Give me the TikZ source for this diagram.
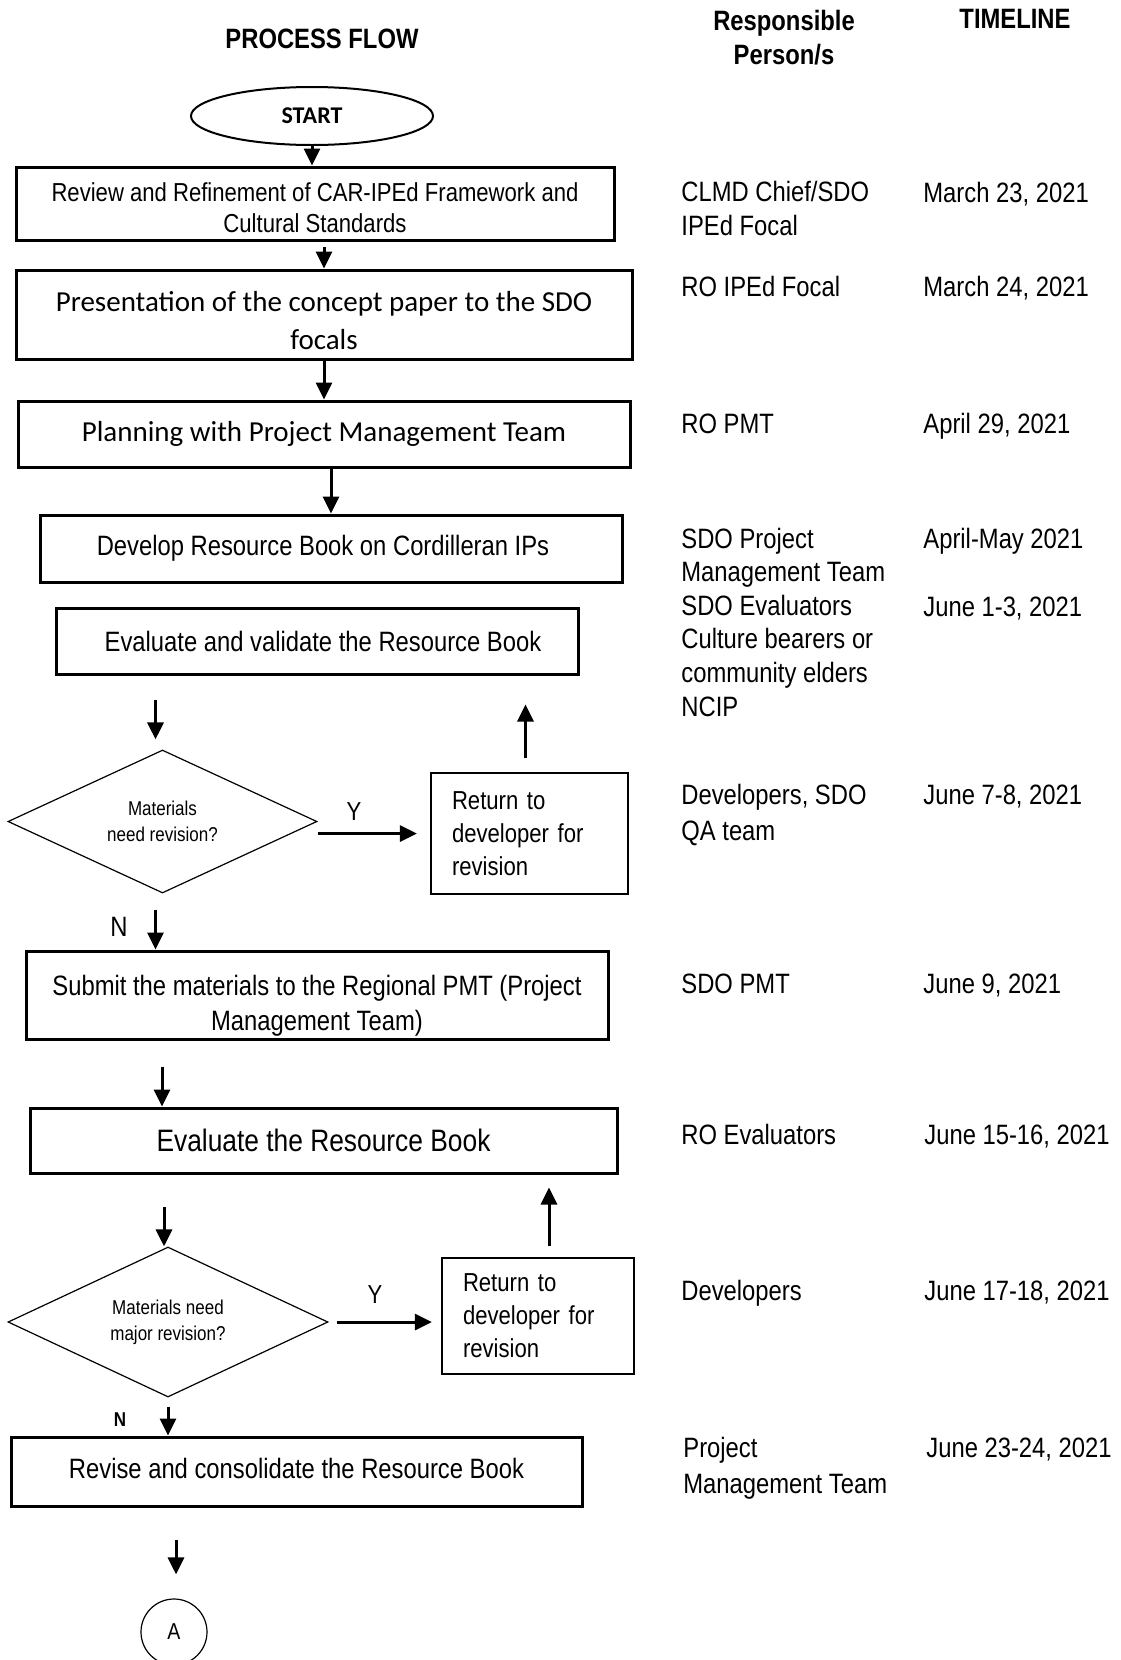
\documentclass[tikz,border=0pt]{standalone}
\usepackage{fontspec}
\setmainfont[FakeStretch=0.85]{Liberation Sans}
\newfontfamily\calfont{Carlito}
\usetikzlibrary{shapes.geometric,arrows.meta}
\newcommand\fsz[2]{\fontsize{#1}{#2}\selectfont}
\begin{document}
\begin{tikzpicture}[x=0.5pt,y=-0.5pt,
  box/.style={draw, line width=1.5pt, inner sep=0pt, align=center, font=\fsz{14pt}{17pt}},
  retbox/.style={draw, line width=1.1pt, inner sep=0pt, align=left, font=\fsz{13pt}{16.5pt}},
  decision/.style={draw, diamond, aspect=2.2, line width=0.6pt, inner sep=0pt, align=center, font=\fsz{10pt}{13pt}},
  arr/.style={line width=1.5pt, -{Triangle[length=8.5pt,width=8pt]}},
  hdr/.style={font=\bfseries\fsz{14pt}{17pt}, align=center, inner sep=0pt},
  col/.style={anchor=base west, inner sep=0pt, align=left, font=\fsz{14pt}{16.8pt}},
  lbl/.style={inner sep=0pt, font=\fsz{13pt}{15pt}}
]
\useasboundingbox (0,0) rectangle (1120,1660);

% headers
\node[hdr] (hpf) at (322,39) {PROCESS FLOW};
\node[hdr] (hrp) at (784,38) {Responsible\\Person/s};
\node[hdr] (htl) at (1015,19) {TIMELINE};

% flow nodes
\node[draw, ellipse, line width=1pt, inner sep=0pt, minimum width=121pt, minimum height=29pt,
      font=\calfont\bfseries\fsz{12pt}{14pt}] (start) at (312,116) {START};
\node[box, minimum width=299pt, minimum height=36.5pt, font=\fsz{13pt}{15.5pt}] (box1) at (315,203.5)
  {\rule{0pt}{13.7pt}Review and Refinement of CAR-IPEd Framework and\\Cultural Standards};
\node[box, minimum width=308pt, minimum height=44.5pt, font=\calfont\fsz{14.5pt}{19pt}] (box2) at (324,314.5)
  {\rule{0pt}{15.7pt}Presentation of the concept paper to the SDO\\focals};
\node[box, minimum width=306pt, minimum height=33pt, font=\calfont\fsz{14.5pt}{19pt}] (box3) at (324,434)
  {Planning with Project Management Team};
\node[box, minimum width=291pt, minimum height=33.5pt] (box4) at (331,548.5)
  {\hspace*{-8pt}Develop Resource Book on Cordilleran IPs};
\node[box, minimum width=261pt, minimum height=33pt] (box5) at (317,641)
  {\hspace*{6pt}Evaluate and validate the Resource Book};
\node[decision, minimum width=154.5pt, minimum height=71.5pt] (d1) at (162.5,821.5)
  {Materials\\need revision?};
\node[retbox, minimum width=98.5pt, minimum height=60.5pt, text width=77.5pt] (ret1) at (529.5,833.5)
  {Return to\\developer for\\revision};
\node[box, minimum width=291pt, minimum height=44pt, font=\fsz{14pt}{17.5pt}] (box6) at (317,995)
  {\rule{0pt}{20.5pt}Submit the materials to the Regional PMT (Project\\Management Team)};
\node[box, minimum width=293.5pt, minimum height=32.5pt, font=\fsz{15.5pt}{18pt}] (box7) at (323.5,1140.5)
  {Evaluate the Resource Book};
\node[decision, minimum width=160pt, minimum height=75pt] (d2) at (168,1322)
  {Materials need\\major revision?};
\node[retbox, minimum width=96pt, minimum height=58pt, text width=75pt] (ret2) at (538,1316)
  {Return to\\developer for\\revision};
\node[box, minimum width=285.5pt, minimum height=34.5pt] (box8) at (296.5,1471.5)
  {\raisebox{3.5pt}{Revise and consolidate the Resource Book}};
\node[draw, circle, line width=0.6pt, inner sep=0pt, minimum size=33pt, font=\fsz{11.5pt}{13pt}] (circA) at (174,1632) {A};

% connectors
\draw[arr] (start.south) -- (start.south |- box1.north);
\draw[arr, shorten <=2.5pt] (box2.north |- box1.south) -- (box2.north);
\draw[arr] (box2.south) -- (box3.north);
\draw[arr] (box3.south -| box4.north) -- (box4.north);
\draw[arr, shorten <=12pt, shorten >=5pt] ([xshift=-3.5pt]d1.north |- box5.south) -- ([xshift=-3.5pt]d1.north);
\draw[arr, shorten >=6.5pt] (d1.east |- ret1.west) -- (ret1.west);
\draw[arr, shorten <=7pt, shorten >=14.5pt] ([xshift=-2pt]ret1.north) -- ([xshift=-2pt]ret1.north |- box5.south);
\draw[arr, shorten <=8pt] ([xshift=-3.5pt]d1.south) -- ([xshift=-3.5pt]d1.south |- box6.north);
\draw[arr, shorten <=13pt] ([xshift=-3pt]d2.north |- box6.south) -- ([xshift=-3pt]d2.north |- box7.north);
\draw[arr, shorten <=16pt] ([xshift=-2pt]d2.north |- box7.south) -- ([xshift=-2pt]d2.north);
\draw[arr, shorten <=4pt, shorten >=4.5pt] (d2.east) -- (ret2.west |- d2.east);
\draw[arr, shorten <=5.5pt, shorten >=6.5pt] ([xshift=5.5pt]ret2.north) -- ([xshift=5.5pt]ret2.north |- box7.south);
\draw[arr, shorten <=4.5pt] (d2.south) -- (d2.south |- box8.north);
\draw[arr, shorten <=16pt, shorten >=12pt] ([xshift=1pt]circA.north |- box8.south) -- ([xshift=1pt]circA.north);

% branch labels
\node[lbl] (y1) at (354,812) {Y};
\node[lbl, font=\fsz{14pt}{16pt}] (n1) at (119,927) {N};
\node[lbl] (y2) at (375,1295) {Y};
\node[lbl, font=\bfseries\fsz{10pt}{12pt}] (n2) at (120,1420) {N};

% responsible persons (base anchor = last line's baseline)
\node[col] (r1) at (681,235) {CLMD Chief/SDO\\IPEd Focal};
\node[col] (r2) at (681,296) {RO IPEd Focal};
\node[col] (r3) at (681,433) {RO PMT};
\node[col] (r4) at (681,716) {SDO Project\\Management Team\\SDO Evaluators\\Culture bearers or\\community elders\\NCIP};
\node[col, font=\fsz{14pt}{18pt}] (r5) at (681,840) {Developers, SDO\\QA team};
\node[col] (r6) at (681,993) {SDO PMT};
\node[col] (r7) at (681,1144) {RO Evaluators};
\node[col] (r8) at (681,1300) {Developers};
\node[col, font=\fsz{14pt}{18pt}] (r9) at (683,1493) {Project\\Management Team};

% timeline
\node[col] (t1) at (923,202) {March 23, 2021};
\node[col] (t2) at (923,296) {March 24, 2021};
\node[col] (t3) at (923,433) {April 29, 2021};
\node[col] (t4) at (923,548) {April-May 2021};
\node[col] (t5) at (923,616) {June 1-3, 2021};
\node[col] (t6) at (923,804) {June 7-8, 2021};
\node[col] (t7) at (923,993) {June 9, 2021};
\node[col] (t8) at (924,1144) {June 15-16, 2021};
\node[col] (t9) at (924,1300) {June 17-18, 2021};
\node[col] (t10) at (926,1457) {June 23-24, 2021};
\end{tikzpicture}
\end{document}
